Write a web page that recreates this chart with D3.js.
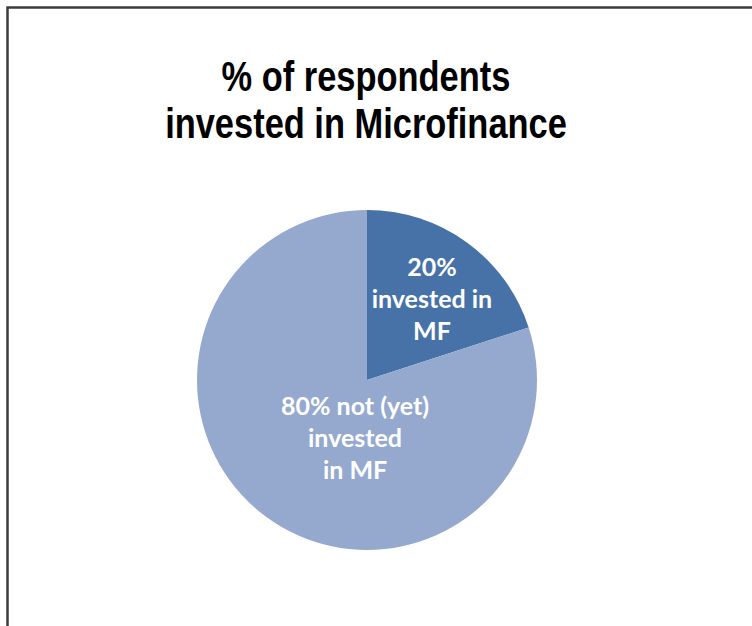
<!DOCTYPE html>
<html>
<head>
<meta charset="utf-8">
<script src="https://cdn.jsdelivr.net/npm/d3@7"></script>
<style>
  html, body { margin: 0; padding: 0; background: #ffffff; }
  svg { display: block; }
</style>
</head>
<body>
<svg id="chart" width="752" height="626"></svg>
<script>
// Survey shares
const categories = ["invested in MF", "not (yet) invested in MF"];
const values = [20, 80];
const colors = ["#4672A7", "#95A9CF"];
const labelLines = [
  ["20%", "invested in", "MF"],
  ["80% not (yet)", "invested", "in MF"]
];
const titleLines = ["% of respondents", "invested in Microfinance"];

const svg = d3.select("#chart");
const W = 752, H = 626;

// chart frame (continues past the right and bottom edges)
svg.append("rect")
  .attr("x", 7.5).attr("y", 7.5)
  .attr("width", W + 20).attr("height", H + 20)
  .attr("fill", "#ffffff")
  .attr("stroke", "#3c3c3c")
  .attr("stroke-width", 2.5);

// title in a condensed bold face (narrowed Liberation Sans)
const titleX = 366, narrow = 0.82;
const title = svg.append("text")
  .attr("text-anchor", "middle")
  .attr("transform", `translate(${titleX},0) scale(${narrow},1)`)
  .attr("font-family", "'Liberation Sans', Arial, sans-serif")
  .attr("font-weight", "bold")
  .attr("font-size", 42)
  .attr("fill", "#000000");
titleLines.forEach((t, i) => {
  title.append("tspan").attr("x", 0).attr("y", 91 + i * 47).text(t);
});

// pie
const cx = 367, cy = 380, R = 170;
const data = categories.map((c, i) => ({ name: c, value: values[i], lines: labelLines[i], color: colors[i] }));
const pie = d3.pie().value(d => d.value).sort(null);
const arc = d3.arc().innerRadius(0).outerRadius(R);

const g = svg.append("g").attr("transform", `translate(${cx},${cy})`);
const arcs = pie(data);

g.selectAll("path.slice")
  .data(arcs)
  .join("path")
  .attr("class", "slice")
  .attr("d", arc)
  .attr("fill", d => d.data.color);

// in-slice labels: radial position plus a small nudge
const labelPos = [
  { r: 0.62, dx: 3, dy: 4 },
  { r: 0.32, dx: 20, dy: 14 }
];
const lineGap = 32;
g.selectAll("text.lbl")
  .data(arcs)
  .join("text")
  .attr("class", "lbl")
  .attr("text-anchor", "middle")
  .attr("font-family", "Lato, 'Open Sans', sans-serif")
  .attr("font-weight", "bold")
  .attr("font-size", 25)
  .attr("fill", "#ffffff")
  .each(function(d, i) {
    const mid = (d.startAngle + d.endAngle) / 2;
    const rr = R * labelPos[i].r;
    const x = Math.sin(mid) * rr + labelPos[i].dx;
    const y = -Math.cos(mid) * rr + labelPos[i].dy;
    const n = d.data.lines.length;
    d.data.lines.forEach((t, k) => {
      d3.select(this).append("tspan")
        .attr("x", x)
        .attr("y", y + (k - (n - 1) / 2) * lineGap + 9)
        .text(t);
    });
  });
</script>
</body>
</html>
